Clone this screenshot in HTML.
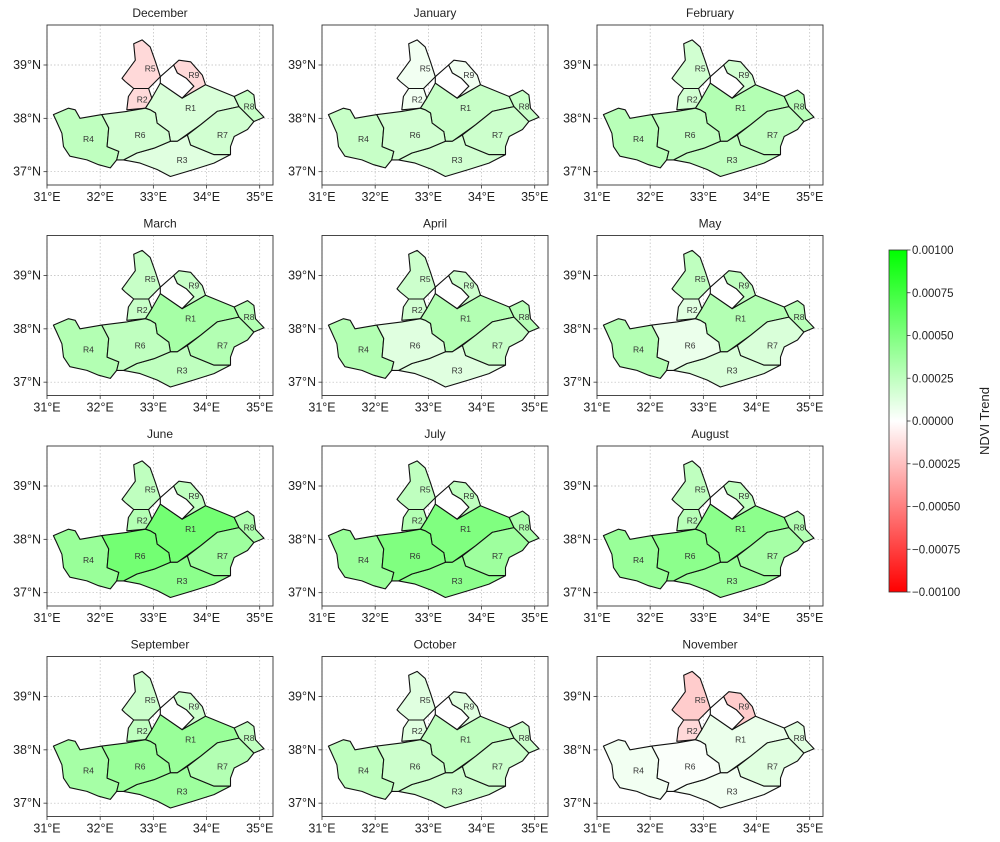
<!DOCTYPE html>
<html><head><meta charset="utf-8">
<style>
html,body{margin:0;padding:0;background:#fff;}
svg{display:block;font-family:"Liberation Sans","DejaVu Sans",sans-serif;}
</style></head>
<body>
<svg id="fig" width="1000" height="842" viewBox="0 0 1000 842" xmlns="http://www.w3.org/2000/svg">
<defs>
<linearGradient id="cmap" x1="0" y1="1" x2="0" y2="0">
<stop offset="0" stop-color="#ff0000"/><stop offset="0.5" stop-color="#ffffff"/><stop offset="1" stop-color="#00ff00"/>
</linearGradient>
</defs>
</svg>
<script>
const months=["December","January","February","March","April","May","June","July","August","September","October","November"];
const regionNames=["R1","R2","R3","R4","R5","R6","R7","R8","R9"];
// mean NDVI trend per region (x1e-3), order R1..R9
const trendDec=[0.15,-0.15,0.12,0.25,-0.15,0.18,0.18,0.22,-0.15];
const trendJan=[0.22,0.05,0.18,0.22,0.05,0.18,0.2,0.22,0.05];
const trendFeb=[0.3,0.18,0.25,0.28,0.18,0.25,0.25,0.28,0.18];
const trendMar=[0.35,0.22,0.25,0.3,0.22,0.25,0.3,0.3,0.22];
const trendApr=[0.3,0.18,0.12,0.3,0.2,0.12,0.22,0.28,0.2];
const trendMay=[0.3,0.12,0.15,0.3,0.25,0.08,0.15,0.28,0.25];
const trendJun=[0.55,0.3,0.45,0.4,0.25,0.55,0.38,0.32,0.25];
const trendJul=[0.5,0.3,0.45,0.4,0.25,0.5,0.38,0.32,0.25];
const trendAug=[0.45,0.28,0.4,0.4,0.25,0.45,0.35,0.3,0.25];
const trendSep=[0.4,0.25,0.38,0.35,0.2,0.4,0.3,0.25,0.2];
const trendOct=[0.25,0.12,0.2,0.25,0.12,0.2,0.2,0.2,0.12];
const trendNov=[0.08,-0.15,0.05,0.05,-0.2,0.02,0.12,0.12,-0.2];
const trends=[trendDec,trendJan,trendFeb,trendMar,trendApr,trendMay,trendJun,trendJul,trendAug,trendSep,trendOct,trendNov];
const lonTicks=[31,32,33,34,35];
const latTicks=[37,38,39];
const cbTicks=["0.00100","0.00075","0.00050","0.00025","0.00000","\u22120.00025","\u22120.00050","\u22120.00075","\u22120.00100"];
const regions={
R1:[[32.97,38.38],[33.13,38.66],[33.54,38.38],[33.98,38.63],[34.52,38.41],[34.61,38.22],[34.20,38.13],[33.89,37.88],[33.45,37.57],[33.32,37.57],[33.29,37.75],[33.07,37.91],[33.04,38.10],[32.94,38.16],[32.85,38.19]],
R2:[[32.63,38.56],[32.91,38.56],[32.97,38.38],[32.85,38.19],[32.50,38.16],[32.53,38.41]],
R3:[[32.69,37.35],[33.01,37.44],[33.32,37.57],[33.45,37.57],[33.64,37.69],[33.70,37.50],[34.14,37.32],[34.45,37.32],[34.14,37.16],[33.76,37.04],[33.32,36.91],[33.07,37.04],[32.75,37.16],[32.44,37.22]],
R4:[[31.12,38.07],[31.40,38.19],[31.53,38.16],[31.62,38.0],[32.03,38.07],[32.16,37.82],[32.13,37.47],[32.35,37.38],[32.31,37.22],[32.19,37.07],[31.97,37.13],[31.75,37.22],[31.43,37.29],[31.31,37.47],[31.28,37.72],[31.18,37.94]],
R5:[[32.41,38.75],[32.66,39.09],[32.63,39.40],[32.79,39.47],[32.94,39.34],[33.04,39.06],[33.13,38.78],[32.91,38.56],[32.63,38.56],[32.47,38.69]],
R6:[[32.03,38.07],[32.50,38.13],[32.85,38.19],[32.94,38.16],[33.04,38.10],[33.07,37.91],[33.29,37.75],[33.32,37.57],[33.01,37.44],[32.69,37.35],[32.44,37.22],[32.31,37.22],[32.35,37.38],[32.13,37.47],[32.16,37.82]],
R7:[[34.20,38.13],[34.61,38.22],[34.89,37.94],[34.77,37.79],[34.52,37.66],[34.45,37.47],[34.45,37.32],[34.14,37.32],[33.70,37.50],[33.64,37.69],[33.89,37.88]],
R8:[[34.52,38.41],[34.77,38.53],[34.89,38.44],[34.92,38.19],[35.08,38.02],[34.89,37.94],[34.61,38.22]],
R9:[[33.38,39.0],[33.48,39.09],[33.70,39.06],[33.92,38.81],[33.98,38.63],[33.54,38.38],[33.60,38.44],[33.76,38.6],[33.62,38.75],[33.45,38.85]]
};
const hole=[[33.13,38.78],[33.38,39.0],[33.45,38.85],[33.62,38.75],[33.76,38.6],[33.60,38.44],[33.54,38.38],[33.13,38.66]];
const labelPos={R1:[33.70,38.19],R2:[32.79,38.35],R3:[33.54,37.22],R4:[31.78,37.61],R5:[32.94,38.93],R6:[32.75,37.69],R7:[34.30,37.69],R8:[34.80,38.22],R9:[33.76,38.81]};

const NS="http://www.w3.org/2000/svg";
const svg=document.getElementById('fig');
function mk(tag,attrs,parent){const e=document.createElementNS(NS,tag);for(const k in attrs)e.setAttribute(k,attrs[k]);(parent||svg).appendChild(e);return e;}
function cmap(v){v=Math.max(-1,Math.min(1,v));let r,g,b;if(v>=0){r=Math.round(255*(1-v));g=255;b=r;}else{r=255;g=Math.round(255*(1+v));b=g;}return `rgb(${r},${g},${b})`;}
const W=226,H=160,lon0=31,lon1=35.25,lat0=36.75,lat1=39.75;
months.forEach((m,i)=>{
 const c=i%3,r=Math.floor(i/3);
 const L=47+275*c,T=25+210.5*r;
 const X=lon=>L+(lon-lon0)/(lon1-lon0)*W;
 const Y=lat=>T+(lat1-lat)/(lat1-lat0)*H;
 const g=mk('g',{});
 
 
 const t=mk('text',{x:L+W/2,y:T-8,'text-anchor':'middle','font-size':12,fill:'#222'},g);t.textContent=m;
 
 
 lonTicks.forEach(lo=>{const x=X(lo);mk('line',{x1:x,y1:T,x2:x,y2:T+H,stroke:'#bbb','stroke-width':0.7,'stroke-dasharray':'1.5,2'},g);
  mk('line',{x1:x,y1:T+H,x2:x,y2:T+H+3.5,stroke:'#333','stroke-width':0.8},g);
  const tx=mk('text',{x:x,y:T+H+16,'text-anchor':'middle','font-size':12.5,fill:'#222'},g);tx.textContent=lo+'°E';
  
  });
 latTicks.forEach(la=>{const y=Y(la);mk('line',{x1:L,y1:y,x2:L+W,y2:y,stroke:'#bbb','stroke-width':0.7,'stroke-dasharray':'1.5,2'},g);
  mk('line',{x1:L-3.5,y1:y,x2:L,y2:y,stroke:'#333','stroke-width':0.8},g);
  const ty=mk('text',{x:L-6,y:y+4,'text-anchor':'end','font-size':12.5,fill:'#222'},g);ty.textContent=la+'°N';
  
  });
 regionNames.forEach((rn,k)=>{
  const pts=regions[rn].map(p=>X(p[0]).toFixed(1)+','+Y(p[1]).toFixed(1)).join(' ');
  const p=mk('polygon',{points:pts,fill:cmap(trends[i][k]),stroke:'#111','stroke-width':1.1,'stroke-linejoin':'round'},g);
  
  
 });
 mk('polygon',{points:hole.map(p=>X(p[0]).toFixed(1)+','+Y(p[1]).toFixed(1)).join(' '),fill:'#fff',stroke:'#111','stroke-width':1.1},g);
 regionNames.forEach(rn=>{const lp=labelPos[rn];const tl=mk('text',{x:X(lp[0]),y:Y(lp[1])+3,'text-anchor':'middle','font-size':8.5,fill:'#333'},g);tl.textContent=rn;
  
  });
 mk('rect',{x:L,y:T,width:W,height:H,fill:'none',stroke:'#333','stroke-width':0.9},g);
});
const cb=mk('g',{});


const cbX=889,cbY=250,cbW=18,cbH=342;
mk('rect',{x:cbX,y:cbY,width:cbW,height:cbH,fill:'url(#cmap)',stroke:'#333','stroke-width':0.8},cb);
cbTicks.forEach((s,k)=>{const y=cbY+k*cbH/(cbTicks.length-1);
 mk('line',{x1:cbX+cbW,y1:y,x2:cbX+cbW+3.5,y2:y,stroke:'#333','stroke-width':0.8},cb);
 const t=mk('text',{x:cbX+cbW+5,y:y+4,'font-size':11.5,fill:'#222'},cb);t.textContent=s;
 
 });
const ct=mk('text',{x:0,y:0,'font-size':13,fill:'#222','text-anchor':'middle',transform:'translate(989,421) rotate(-90)'},cb);ct.textContent='NDVI Trend';


</script>
</body></html>
